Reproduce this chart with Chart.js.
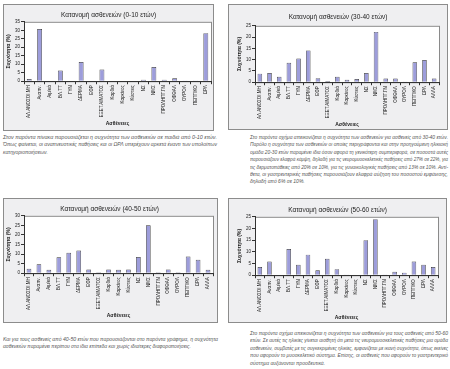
<!DOCTYPE html>
<html>
<head>
<meta charset="utf-8">
<script src="https://cdn.jsdelivr.net/npm/chart.js@4.4.1/dist/chart.umd.min.js"></script>
<style>
  body { margin: 0; width: 450px; height: 369px; background: #fff; position: relative; overflow: hidden; font-family: "Liberation Sans", Arial, sans-serif; }
  .box { position: absolute; background: #efeff1; border: 1px solid #8c8c8c; box-sizing: border-box; }
  .txt { position: absolute; font-style: italic; font-size: 5px; line-height: 7.4px; color: #555; }
  .txt div { white-space: nowrap; height: 7.4px; }
  .txt span { display: inline-block; transform-origin: 0 0; }
</style>
</head>
<body>
<div class="box" style="left:3px;top:4px;width:211px;height:127px"><canvas id="c1"></canvas></div>
<div class="box" style="left:228px;top:4px;width:220px;height:126px"><canvas id="c2"></canvas></div>
<div class="box" style="left:3px;top:198px;width:215px;height:125px"><canvas id="c3"></canvas></div>
<div class="box" style="left:228px;top:198px;width:219px;height:125px"><canvas id="c4"></canvas></div>

<div class="txt" style="left:3px;top:134px;width:214px">
  <div><span>Στον παρόντα πίνακα παρουσιάζεται η συχνότητα των ασθενειών σε παιδιά από 0-10 ετών.</span></div>
  <div><span>Όπως φαίνεται, οι αναπνευστικές παθήσεις και οι ΩΡΛ υπερέχουν αρκετά έναντι των υπολοίπων</span></div>
  <div class="last"><span>κατηγοριοποιήσεων.</span></div>
</div>
<div class="txt" style="left:250px;top:134px;width:198px">
  <div><span>Στο παρόντα σχήμα απεικονίζεται η συχνότητα των ασθενειών για ασθενείς από 30-40 ετών.</span></div>
  <div><span>Παρόλο η συχνότητα των ασθενειών οι οποίες περιγράφονται και στην προηγούμενη ηλικιακή</span></div>
  <div><span>ομάδα 20-30 ετών παραμένει ίδια όσον αφορά τη γενικότερη συμπεριφορά, σε ποσοστά αυτές</span></div>
  <div><span>παρουσιάζουν ελαφρά κάμψη, δηλαδή για τις νευρομυοσκελετικές παθήσεις από 27% σε 22%, για</span></div>
  <div><span>τις δερματοπάθειες από 20% σε 10%, για τις γυναικολογικές παθήσεις από 13% σε 10%. Αντί-</span></div>
  <div><span>θετα, οι γαστρεντερικές παθήσεις παρουσιάζουν ελαφρά αύξηση του ποσοστού εμφάνισης,</span></div>
  <div class="last"><span>δηλαδή από 6% σε 10%.</span></div>
</div>
<div class="txt" style="left:3px;top:336px;width:215px">
  <div><span>Και για τους ασθενείς από 40-50 ετών που παρουσιάζονται στο παρόντα γράφημα, η συχνότητα</span></div>
  <div class="last"><span>ασθενειών παραμένει περίπου στα ίδια επίπεδα και χωρίς ιδιαίτερες διαφοροποιήσεις.</span></div>
</div>
<div class="txt" style="left:250px;top:330px;width:198px">
  <div><span>Στο παρόντα σχήμα απεικονίζεται η συχνότητα των ασθενειών για τους ασθενείς από 50-60</span></div>
  <div><span>ετών. Σε αυτές τις ηλικίες γίνεται αισθητή ότι μετά τις νευρομυοσκελετικές παθήσεις μια ομάδα</span></div>
  <div><span>ασθενειών, συμβατές με τις συγκεκριμένες ηλικίες, εμφανίζεται με ικανή συχνότητα, όπως εκείνες</span></div>
  <div><span>που αφορούν το μυοσκελετικό σύστημα. Επίσης, οι ασθενείς που αφορούν το γαστρεντερικό</span></div>
  <div class="last"><span>σύστημα αυξάνονται προοδευτικά.</span></div>
</div>

<script>
// categories (same order in all four charts, 0-10 has no ΑΛΛΑ)
const diseases = ["ΑΛ.ΑΝΟΣΟΙ.ΜΗ", "Αναπν.", "Αιμ/κά", "ΒΛ.ΤΤ", "ΓΥΝ", "ΔΕΡΜΑ", "ΕΦΡ", "ΕΞΕΤ.ΑΙΜΑΤΟΣ",
	"Καρδιά", "Καρκίνος", "Κύστεις", "ΝΣ", "ΝΜΣ", "ΠΡΟΛΗΠΤ.ΓΝ", "ΟΦΘΑΛ", "ΟΥΡΟΛ", "ΠΕΠΤΙΚΟ", "ΩΡΛ", "ΑΛΛΑ"];

// percentages per age group
const ages0to10 = [1.3, 30.8, 0, 6.3, 0.2, 11.3, 0.2, 6.9, 0, 0, 0, 0.8, 8.4, 0.8, 1.7, 0.4, 0.4, 28.3];
const ages30to40 = [3.8, 4.1, 2.4, 8.6, 10.5, 14.1, 1.8, 0.5, 2.4, 1.1, 1.4, 4.1, 22.3, 1.6, 1.6, 0.3, 8.8, 9.8, 1.6];
const ages40to50 = [2.3, 4.7, 1.8, 8.3, 10.7, 11.9, 2, 0.5, 2, 1.8, 2, 8.5, 25.1, 0.5, 2, 0.5, 8.7, 7, 1.8];
const ages50to60 = [3.5, 5.9, 0, 11.2, 4.5, 8.8, 2.1, 7, 2.6, 0.3, 0, 15, 24, 0.3, 1.5, 1.1, 5.9, 4.5, 3.5];

// y axis tops
const yMax = [35, 25, 30, 25];

const titles = ["Κατανομή ασθενειών (0-10 ετών)", "Κατανομή ασθενειών (30-40 ετών)",
	"Κατανομή ασθενειών (40-50 ετών)", "Κατανομή ασθενειών (50-60 ετών)"];

// squeeze / stretch the caption lines to the column width
document.querySelectorAll(".txt").forEach((block) => {
	const w = block.clientWidth;
	block.querySelectorAll("div").forEach((line) => {
		const s = line.children[0];
		const sw = s.getBoundingClientRect().width;
		if (line.classList.contains("last") && sw < w) return;
		s.style.transform = "scaleX(" + w / sw + ")";
	});
});

Chart.defaults.font.family = "'Liberation Sans', Arial, sans-serif";
Chart.defaults.color = "#222";
Chart.defaults.animation = false;

// white plot area with grey frame, like excel
const plotFrame = {
	id: "plotFrame",
	beforeDraw(chart) {
		const { ctx, chartArea: a } = chart;
		ctx.save();
		ctx.fillStyle = "#fff";
		ctx.fillRect(a.left, a.top, a.width, a.height);
		ctx.strokeStyle = "#8a8a8a";
		ctx.lineWidth = 1;
		ctx.strokeRect(a.left + 0.5, a.top + 0.5, a.width, a.height);
		ctx.restore();
	},
};

function makeChart(id, labels, values, title, max, pad, titlePad) {
	return new Chart(document.getElementById(id), {
		type: "bar",
		data: {
			labels: labels,
			datasets: [
				{
					data: values,
					backgroundColor: "#9d9ddb",
					borderColor: "#333",
					borderWidth: 0.7,
					barPercentage: 0.47,
					categoryPercentage: 1,
				},
			],
		},
		options: {
			responsive: true,
			maintainAspectRatio: false,
			layout: { padding: pad },
			plugins: {
				legend: { display: false },
				tooltip: { enabled: false },
				title: {
					display: true,
					text: title,
					color: "#222",
					font: { size: 6.5, weight: "normal" },
					padding: titlePad,
				},
			},
			scales: {
				x: {
					grid: { display: true, drawOnChartArea: false, offset: true, tickLength: 3, color: "#333" },
					border: { color: "#333" },
					ticks: { autoSkip: false, maxRotation: 90, minRotation: 90, padding: 1, font: { size: 4.5 } },
					title: { display: true, text: "Ασθένειες", font: { size: 5, weight: "bold" }, padding: { top: 2, bottom: 0 } },
				},
				y: {
					min: 0,
					max: max,
					grid: { display: true, drawOnChartArea: false, tickLength: 3, color: "#333" },
					border: { color: "#333" },
					ticks: { stepSize: 5, padding: 1, font: { size: 4.5 } },
					title: { display: true, text: "Συχνότητα (%)", font: { size: 5, weight: "bold" }, padding: { top: 0, bottom: 2 } },
				},
			},
		},
		plugins: [plotFrame],
	});
}

makeChart("c1", diseases.slice(0, 18), ages0to10, titles[0], yMax[0], { left: 2, right: 2, top: 0, bottom: 3 }, { top: 6, bottom: 3 });
makeChart("c2", diseases, ages30to40, titles[1], yMax[1], { left: 8, right: 8, top: 0, bottom: 1 }, { top: 8, bottom: 5 });
makeChart("c3", diseases, ages40to50, titles[2], yMax[2], { left: 2, right: 4, top: 0, bottom: 3 }, { top: 6, bottom: 3 });
makeChart("c4", diseases, ages50to60, titles[3], yMax[3], { left: 8, right: 8, top: 0, bottom: 1 }, { top: 7, bottom: 3 });
</script>
</body>
</html>
